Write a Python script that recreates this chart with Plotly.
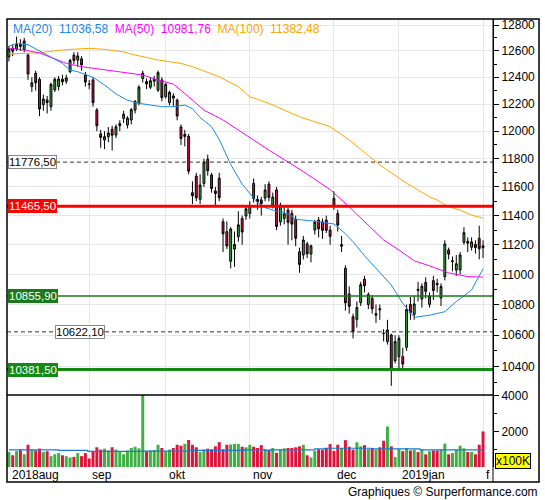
import math
import plotly.graph_objects as go

# DAX daily candles, 3 Aug 2018 .. 1 Feb 2019 (one entry per trading day)
opens = [12555, 12620, 12615, 12650, 12610, 12568, 12330, 12430, 12385, 12195, 12230, 12180, 12305, 12330, 12385, 12370, 12442, 12568, 12530, 12540, 12417,
         12350, 12380, 12155, 11980, 11936, 11960, 12014, 11972, 12040, 12094, 12045, 12082, 12155, 12205, 12390, 12368, 12325, 12370, 12303, 12380,
         12255, 12210, 12260, 12229, 12031, 11962, 11962, 11560, 11677, 11513, 11625, 11797, 11685, 11572, 11662, 11357, 11289, 11088, 11170, 11255, 11380, 11397,
         11415, 11625, 11513, 11509, 11522, 11620, 11473, 11579, 11357, 11380, 11438, 11415, 11374, 11152, 11130, 11205, 11137, 11300, 11369, 11357, 11369, 11300,
         11520, 11415, 11190, 11040, 10870, 10720, 10703, 10812, 10967, 10800, 10841, 10730, 10773, 10613, 10560, 10602, 10437,
         10463, 10463, 10523, 10800, 10735, 10900, 10836, 10946, 10801, 10958, 10940, 10843, 10985, 11164, 11086, 11029, 11029, 11216, 11223, 11183, 11203, 11243,
         11192]
highs = [12640, 12650, 12710, 12690, 12700, 12580, 12400, 12450, 12400, 12270, 12260, 12360, 12400, 12410, 12420, 12420, 12540, 12590, 12590, 12560, 12440,
         12380, 12400, 12170, 12010, 12000, 12030, 12040, 12050, 12080, 12150, 12110, 12170, 12230, 12340, 12450, 12390, 12400, 12410, 12450, 12400,
         12360, 12300, 12280, 12240, 12050, 12010, 11980, 11640, 11700, 11690, 11800, 11830, 11700, 11600, 11700, 11380, 11360, 11320, 11290, 11430, 11400, 11470,
         11500, 11660, 11540, 11530, 11620, 11640, 11560, 11600, 11490, 11470, 11470, 11440, 11400, 11180, 11260, 11220, 11200, 11370, 11390, 11380, 11400, 11330,
         11570, 11440, 11260, 11060, 10920, 10740, 10820, 10950, 10990, 10880, 10860, 10800, 10800, 10640, 10700, 10610, 10600,
         10600, 10520, 10800, 10850, 10860, 10950, 10940, 10980, 10880, 10990, 10970, 10940, 11230, 11180, 11120, 11130, 11150, 11320, 11250, 11250, 11230, 11330,
         11230]
lows = [12520, 12560, 12600, 12600, 12590, 12380, 12290, 12300, 12110, 12150, 12130, 12150, 12290, 12300, 12340, 12350, 12430, 12500, 12480, 12450, 12330,
        12310, 12180, 12000, 11880, 11870, 11920, 11860, 11950, 12000, 12060, 12020, 12050, 12130, 12190, 12360, 12310, 12310, 12330, 12290, 12220,
        12240, 12190, 12180, 12080, 11900, 11890, 11690, 11480, 11500, 11480, 11600, 11680, 11560, 11470, 11500, 11150, 11170, 11040, 11050, 11220, 11200, 11370,
        11380, 11490, 11440, 11400, 11500, 11500, 11450, 11300, 11330, 11340, 11200, 11230, 11190, 11010, 11100, 11110, 11080, 11270, 11250, 11240, 11280, 11200,
        11440, 11290, 11150, 10760, 10740, 10580, 10650, 10790, 10880, 10770, 10740, 10680, 10700, 10560, 10540, 10279, 10420,
        10386, 10380, 10500, 10700, 10700, 10820, 10780, 10840, 10780, 10830, 10880, 10790, 10960, 11100, 11020, 10990, 11000, 11200, 11150, 11160, 11140, 11100,
        11110]
closes = [12616, 12598, 12648, 12634, 12676, 12424, 12358, 12359, 12163, 12237, 12211, 12346, 12385, 12387, 12366, 12395, 12528, 12527, 12562, 12494, 12364,
          12346, 12210, 12040, 11955, 11960, 11987, 11970, 12032, 12055, 12124, 12096, 12158, 12219, 12326, 12431, 12350, 12374, 12385, 12435, 12247,
          12346, 12287, 12244, 12111, 11947, 11977, 11712, 11539, 11524, 11614, 11777, 11715, 11589, 11554, 11524, 11274, 11191, 11307, 11201, 11336, 11287, 11447,
          11468, 11519, 11495, 11484, 11579, 11527, 11529, 11325, 11472, 11412, 11353, 11341, 11244, 11066, 11232, 11138, 11192, 11354, 11309, 11298, 11298, 11257,
          11465, 11335, 11200, 10811, 10788, 10622, 10780, 10931, 10924, 10866, 10772, 10740, 10766, 10611, 10634, 10381, 10559,
          10580, 10416, 10768, 10747, 10804, 10893, 10921, 10887, 10856, 10892, 10931, 10919, 11205, 11136, 11090, 11071, 11130, 11282, 11210, 11219, 11181, 11173,
          11180]
# volume in units of 100K
volumes = [840, 660, 890, 980, 715, 1250, 980, 930, 1035, 840, 890, 610, 715, 785, 660, 610, 535, 570, 785, 610, 785,
           480, 890, 1110, 980, 1030, 930, 1110, 980, 840, 715, 930, 1070, 1140, 1050, 4100, 890, 930, 960, 1250, 1070,
           890, 980, 1070, 1250, 1200, 1300, 1520, 1250, 1110, 840, 980, 1030, 1000, 1160, 1400, 1000, 1250, 1270, 1300, 1300, 1140, 1110,
           1250, 1140, 1070, 1230, 1000, 970, 1070, 800, 1000, 1050, 1070, 1070, 1110, 1160, 1250, 660, 535, 900, 1000, 960, 1070, 1290,
           910, 1250, 1070, 1510, 1140, 980, 1390, 1160, 1230, 1000, 1070, 970, 1110, 1480, 2280, 1160, 560,
           1020, 890, 1070, 930, 980, 840, 1000, 715, 890, 930, 930, 1000, 1320, 715, 785, 965, 1200, 1050, 840, 840, 715, 1250,
           2000]

# moving averages (trading-day index, value)
ma20_idx = [0, 2, 5, 8, 10, 14, 16, 18, 22, 25, 28, 31, 34, 37, 40, 43, 46, 48, 50, 53, 55, 58, 61, 63, 65, 67, 70, 73, 75, 79, 82, 85,
            88, 90, 93, 96, 100, 103, 106, 110, 114, 117, 121, 124]
ma20_val = [12635, 12658, 12648, 12600, 12570, 12505, 12455, 12442, 12400, 12342, 12275, 12228, 12205, 12195, 12180, 12180, 12192, 12165,
            12100, 12033, 11940, 11760, 11620, 11555, 11490, 11455, 11430, 11412, 11374, 11364, 11355, 11342,
            11275, 11220, 11125, 11040, 10929, 10808, 10716, 10730, 10753, 10819, 10896, 11037]
ma50_idx = [0, 4, 8, 11, 15, 19, 25, 32, 35, 39, 43, 47, 51, 56, 60, 64, 68, 77, 84, 89, 93, 97, 98, 102, 105, 106, 110, 115, 120, 124]
ma50_val = [12620, 12607, 12585, 12551, 12505, 12480, 12455, 12430, 12417, 12379, 12349, 12254, 12155, 12082, 12009, 11936, 11863,
            11709, 11582, 11461, 11358, 11254, 11232, 11164, 11107, 11091, 11057, 11010, 10985, 10982]
ma100_idx = [0, 4, 8, 12, 16, 21, 25, 30, 32, 39, 45, 48, 55, 60, 63, 68, 76, 84, 89, 97, 103, 104, 110, 112, 115, 118, 121, 124]
ma100_val = [12578, 12582, 12585, 12601, 12612, 12620, 12612, 12593, 12575, 12531, 12505, 12480, 12404, 12329, 12254, 12205, 12106,
             12033, 11936, 11757, 11650, 11626, 11531, 11508, 11461, 11438, 11403, 11382]
ma_last = [11036.58, 10981.76, 11382.48]

vol_ma_idx = [0, 13, 20.6, 35, 47, 61.5, 67, 68.4, 80, 82.5, 94.7, 107.5, 124]
vol_ma_val = [965, 930, 875, 890, 930, 965, 930, 965, 1020, 1055, 1020, 965, 965]

levels = [11776.50, 11465.50, 10855.90, 10622.10, 10381.50]

month_start = [0, 21, 41, 63, 85, 102, 124]
month_labels = ["2018aug", "sep", "okt", "nov", "dec", "2019jan", "f"]

price_ticks = list(range(10400, 12801, 200))
vol_ticks = [2000, 4000]

GREEN = "#3cb043"
RED = "#dc143c"
FONT = "Liberation Sans, Arial, sans-serif"

days = list(range(len(closes)))
vol_colors = [GREEN if c >= o else RED for o, c in zip(opens, closes)]

fig = go.Figure()

fig.add_trace(go.Candlestick(
    x=days, open=opens, high=highs, low=lows, close=closes,
    increasing=dict(line=dict(color="black", width=1), fillcolor=GREEN),
    decreasing=dict(line=dict(color="black", width=1), fillcolor=RED),
    whiskerwidth=0, showlegend=False, hoverinfo="skip",
    xaxis="x", yaxis="y"))

for xs, ys, col in [(ma100_idx, ma100_val, "#ffa500"),
                    (ma50_idx, ma50_val, "#ff00ff"),
                    (ma20_idx, ma20_val, "#1e88e5")]:
    fig.add_trace(go.Scatter(x=xs, y=ys, mode="lines", line=dict(color=col, width=1),
                             showlegend=False, hoverinfo="skip", xaxis="x", yaxis="y"))

fig.add_trace(go.Bar(x=days, y=volumes, marker=dict(color=vol_colors, line=dict(width=0)),
                     showlegend=False, hoverinfo="skip", xaxis="x2", yaxis="y2"))
fig.add_trace(go.Scatter(x=vol_ma_idx, y=vol_ma_val, mode="lines", line=dict(color="#1e78d0", width=1.2, shape="hv"),
                         showlegend=False, hoverinfo="skip", xaxis="x2", yaxis="y2"))

# panel geometry (paper fractions)
vol_bottom = 15 / 463
vol_top = 87 / 463
x_range = [-0.5, 126.6]

grid = "#e6e6e6"
common_x = dict(range=x_range, tickvals=month_start[1:], showticklabels=False, showgrid=True,
                gridcolor=grid, gridwidth=1, zeroline=False, showline=False, ticks="",
                rangeslider=dict(visible=False), fixedrange=True)

fig.update_layout(
    width=545, height=500,
    margin=dict(l=7, r=52, t=19, b=18),
    paper_bgcolor="white", plot_bgcolor="white",
    font=dict(family=FONT, size=12, color="black"),
    bargap=0.22,
    xaxis=dict(domain=[0, 1], anchor="y", **common_x),
    xaxis2=dict(domain=[0, 1], anchor="y2", matches="x", **common_x),
    yaxis=dict(domain=[vol_top, 1], type="log", side="right",
               range=[math.log10(10222), math.log10(12847)],
               tickmode="array", tickvals=price_ticks, ticktext=[str(t) for t in price_ticks],
               ticks="outside", ticklen=5, tickcolor="black", showline=True, linecolor="black",
               linewidth=1, gridcolor=grid, zeroline=False, tickfont=dict(size=12),
               minor=dict(tickvals=list(range(10300, 12801, 100)), ticks="outside", ticklen=3,
                          tickcolor="black", showgrid=False)),
    yaxis2=dict(domain=[vol_bottom, vol_top], side="right", range=[0, 4050],
                tickmode="array", tickvals=vol_ticks, ticktext=[str(t) for t in vol_ticks],
                ticks="outside", ticklen=5, tickcolor="black", showline=True, linecolor="black",
                showgrid=False, zeroline=False, tickfont=dict(size=12),
                minor=dict(tickvals=[1000, 3000], ticks="outside", ticklen=3, tickcolor="black")),
)

# support / resistance levels
level_line = [dict(color="#333333", width=1, dash="4px,3px"),
              dict(color="#ff0000", width=3),
              dict(color="#1a7a1a", width=1.5),
              dict(color="#333333", width=1, dash="4px,3px"),
              dict(color="#138a13", width=3)]
level_box = [("white", "#888888", "black", 0),
             ("#ff0000", "#ff0000", "white", 0),
             ("#1a7a1a", "#1a7a1a", "white", 0),
             ("white", "#888888", "black", 47),
             ("#138a13", "#138a13", "white", 0)]
for lv, ln, (bg, bd, fc, dx) in zip(levels, level_line, level_box):
    fig.add_shape(type="line", xref="paper", yref="y", x0=0, x1=1, y0=lv, y1=lv, line=ln, layer="above")
    fig.add_annotation(xref="paper", yref="y", x=0, y=math.log10(lv), xanchor="left", yanchor="middle",
                       xshift=dx + 1, text=f"{lv:.2f}".replace(".", ","), showarrow=False,
                       bgcolor=bg, bordercolor=bd, borderwidth=1, borderpad=0,
                       font=dict(size=11.5, color=fc, family=FONT))

# MA legend on top
ma_names = ["MA(20)", "MA(50)", "MA(100)"]
ma_cols = ["#1e88e5", "#ff00ff", "#ffa500"]
parts = []
for name, val, col in zip(ma_names, ma_last, ma_cols):
    parts.append(f"<span style='color:{col}'>{name}\u00a0\u00a0{val:.2f}".replace(".", ",") + "</span>")
fig.add_annotation(xref="paper", yref="paper", x=0, y=1, xanchor="left", yanchor="top", xshift=4, yshift=-1,
                   text="\u00a0\u00a0".join(parts), showarrow=False, font=dict(size=12, family=FONT))

# month labels in the date strip
for i, lab in zip(month_start, month_labels):
    fig.add_annotation(xref="x2", yref="paper", x=i, y=vol_bottom / 2, xanchor="left", yanchor="middle",
                       xshift=1, text=lab, showarrow=False, font=dict(size=12, family=FONT))

fig.add_annotation(xref="paper", yref="paper", x=1, y=vol_bottom + 0.014, xanchor="left", yanchor="middle",
                   xshift=2, text="x100K", showarrow=False, bgcolor="#ffff00", bordercolor="black",
                   borderwidth=1, borderpad=0, font=dict(size=12, family=FONT))

fig.add_annotation(xref="paper", yref="paper", x=1.097, y=-0.022, xanchor="right", yanchor="middle",
                   text="Graphiques \u00a9 Surperformance.com", showarrow=False, font=dict(size=12, family=FONT))

# frame and separators
fig.add_shape(type="rect", xref="paper", yref="paper", x0=0, x1=1.0947, y0=0, y1=1,
              line=dict(color="black", width=1.5), layer="above")
fig.add_shape(type="line", xref="paper", yref="paper", x0=1, x1=1, y0=0, y1=1,
              line=dict(color="black", width=1), layer="above")
fig.add_shape(type="line", xref="paper", yref="paper", x0=0, x1=1, y0=vol_top, y1=vol_top,
              line=dict(color="black", width=1.5), layer="above")

fig.write_html("out.html", config={"displayModeBar": False},
               post_script="document.body.style.margin='0';document.body.style.overflow='hidden';")
